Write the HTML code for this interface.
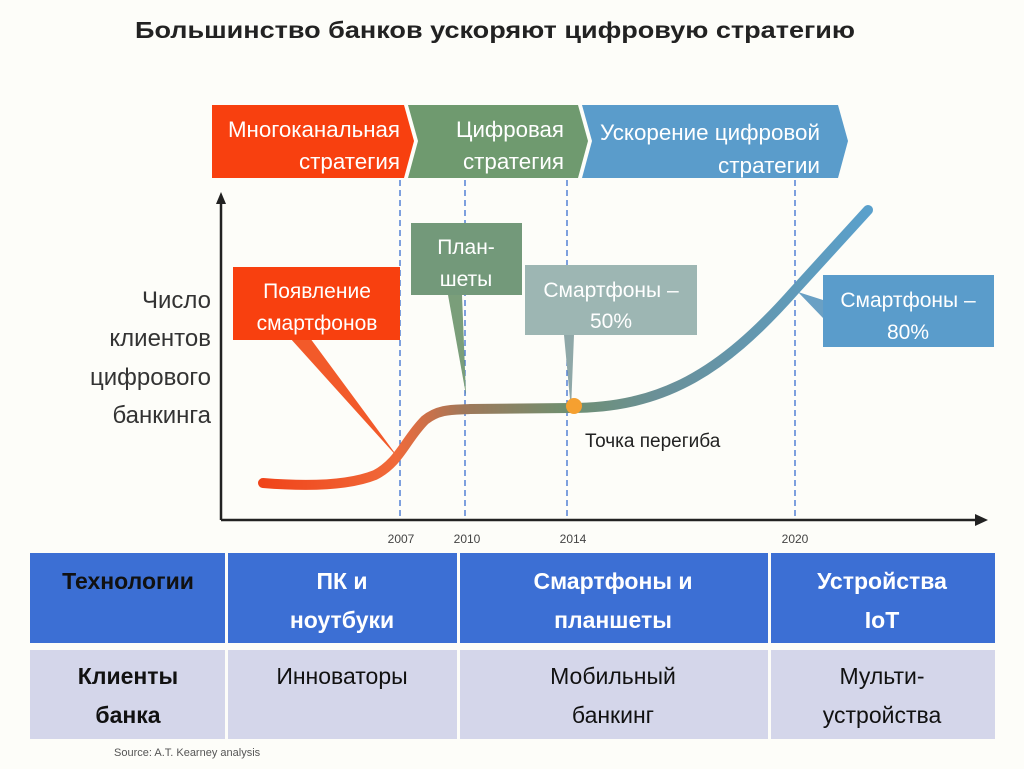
<!DOCTYPE html>
<html><head><meta charset="utf-8"><style>
body{margin:0;width:1024px;height:769px;background:#fdfdf9;overflow:hidden;font-family:"Liberation Sans",sans-serif}
svg{position:absolute;left:0;top:0}
</style></head><body>
<svg width="1024" height="769" viewBox="0 0 1024 769" font-family="Liberation Sans, sans-serif">
<defs>
<linearGradient id="cg" x1="263" y1="0" x2="870" y2="0" gradientUnits="userSpaceOnUse">
<stop offset="0" stop-color="#f0441a"/><stop offset="0.22" stop-color="#f06a3a"/><stop offset="0.33" stop-color="#a0785a"/><stop offset="0.5" stop-color="#6f8f70"/><stop offset="0.65" stop-color="#6a9098"/><stop offset="1" stop-color="#5aa0cc"/>
</linearGradient>
</defs>
<text x="495" y="38" text-anchor="middle" font-size="23" font-weight="bold" fill="#222" textLength="720" lengthAdjust="spacingAndGlyphs">Большинство банков ускоряют цифровую стратегию</text>
<polygon points="212,105 404,105 414,141 404,178 212,178" fill="#f8400f"/>
<polygon points="408,105 578,105 588,141 578,178 408,178 418,141" fill="#6f9a6f"/>
<polygon points="582,105 838,105 848,141 838,178 582,178 592,141" fill="#5a9ccb"/>
<g fill="#fff" font-size="22" text-anchor="end" lengthAdjust="spacingAndGlyphs">
<text x="400" y="137" textLength="172" lengthAdjust="spacingAndGlyphs">Многоканальная</text><text x="400" y="169" textLength="101" lengthAdjust="spacingAndGlyphs">стратегия</text>
<text x="564" y="137" textLength="108" lengthAdjust="spacingAndGlyphs">Цифровая</text><text x="564" y="169" textLength="101" lengthAdjust="spacingAndGlyphs">стратегия</text>
<text x="820" y="140" textLength="220" lengthAdjust="spacingAndGlyphs">Ускорение цифровой</text><text x="820" y="173" textLength="102" lengthAdjust="spacingAndGlyphs">стратегии</text>
</g>
<g stroke="#3a6fd0" stroke-width="1.3" stroke-dasharray="6,4">
<line x1="400" y1="180" x2="400" y2="516"/><line x1="465" y1="180" x2="465" y2="516"/>
<line x1="567" y1="180" x2="567" y2="516"/><line x1="795" y1="180" x2="795" y2="516"/>
</g>
<line x1="221" y1="200" x2="221" y2="520" stroke="#222" stroke-width="2.5"/>
<polygon points="216,204 221,192 226,204" fill="#222"/>
<line x1="221" y1="520" x2="978" y2="520" stroke="#222" stroke-width="2.5"/>
<polygon points="975,514 988,520 975,526" fill="#222"/>
<g font-size="12" fill="#444" text-anchor="middle"><text x="401" y="543">2007</text><text x="467" y="543">2010</text><text x="573" y="543">2014</text><text x="795" y="543">2020</text></g>
<polygon points="290,338 310,338 400,460" fill="#f25a2a"/>
<polygon points="448,295 462,295 466,395" fill="#7a9e7a"/>
<polygon points="564,335 574,335 571,410" fill="#8fa8a8"/>
<polygon points="823,300 823,318 798,292" fill="#6aa0c4"/>
<path d="M263,483 C300,486 345,487 375,475 C400,462 405,440 425,420 C440,408 455,410 470,409 L570,408 C660,408 720,375 795,290 L868,210" fill="none" stroke="url(#cg)" stroke-width="10" stroke-linecap="round"/>
<circle cx="574" cy="406" r="8" fill="#f5a030"/>
<text x="585" y="447" font-size="19" fill="#222">Точка перегиба</text>
<rect x="233" y="267" width="167" height="73" fill="#f8400f"/>
<text x="317" y="298" text-anchor="middle" font-size="21" fill="#fff">Появление</text>
<text x="317" y="330" text-anchor="middle" font-size="21" fill="#fff">смартфонов</text>
<rect x="411" y="223" width="111" height="72" fill="#73997a"/>
<text x="466" y="254" text-anchor="middle" font-size="21" fill="#fff">План-</text>
<text x="466" y="286" text-anchor="middle" font-size="21" fill="#fff">шеты</text>
<rect x="525" y="265" width="172" height="70" fill="#9db6b3"/>
<text x="611" y="297" text-anchor="middle" font-size="21" fill="#fff">Смартфоны –</text>
<text x="611" y="328" text-anchor="middle" font-size="21" fill="#fff">50%</text>
<rect x="823" y="275" width="171" height="72" fill="#5a9ccb"/>
<text x="908" y="307" text-anchor="middle" font-size="21" fill="#fff">Смартфоны –</text>
<text x="908" y="339" text-anchor="middle" font-size="21" fill="#fff">80%</text>
<g font-size="24" fill="#333" text-anchor="end">
<text x="211" y="308">Число</text><text x="211" y="346">клиентов</text><text x="211" y="385">цифрового</text><text x="211" y="423">банкинга</text>
</g>
<g fill="#3c6fd4">
<rect x="30" y="553" width="195" height="90"/><rect x="228" y="553" width="229" height="90"/>
<rect x="460" y="553" width="308" height="90"/><rect x="771" y="553" width="224" height="90"/>
</g>
<g fill="#d4d6ea">
<rect x="30" y="650" width="195" height="89"/><rect x="228" y="650" width="229" height="89"/>
<rect x="460" y="650" width="308" height="89"/><rect x="771" y="650" width="224" height="89"/>
</g>
<g font-size="23" font-weight="bold" text-anchor="middle" fill="#fff">
<text x="128" y="589" fill="#111">Технологии</text>
<text x="342" y="589">ПК и</text><text x="342" y="628">ноутбуки</text>
<text x="613" y="589">Смартфоны и</text><text x="613" y="628">планшеты</text>
<text x="882" y="589">Устройства</text><text x="882" y="628">IoT</text>
</g>
<g font-size="23" text-anchor="middle" fill="#111">
<text x="128" y="684" font-weight="bold">Клиенты</text><text x="128" y="723" font-weight="bold">банка</text>
<text x="342" y="684">Инноваторы</text>
<text x="613" y="684">Мобильный</text><text x="613" y="723">банкинг</text>
<text x="882" y="684">Мульти-</text><text x="882" y="723">устройства</text>
</g>
<text x="114" y="756" font-size="11" fill="#555">Source: A.T. Kearney analysis</text>
</svg>
</body></html>
